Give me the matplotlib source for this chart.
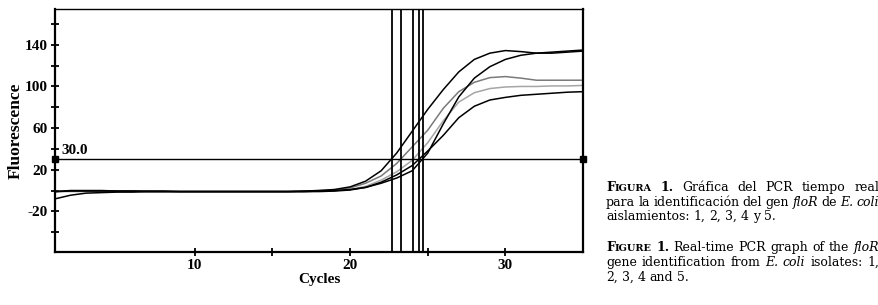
import matplotlib
matplotlib.use("Agg")
import matplotlib.pyplot as plt
from matplotlib.ticker import FixedLocator

# cycle numbers and fluorescence
cycles = list(range(1, 36))
curve_a = [-1, 0, 0, 0, -0.5, -0.5, -0.5, -0.5, -1, -1, -1, -1, -1, -1, -1, -1, -0.5, 0, 1,
           3.5, 9, 19, 36, 57, 78, 97, 114, 126, 132, 134.5, 133.5, 132, 132, 133, 134]
curve_b = [-1, -0.5, -0.5, -0.5, -0.5, -0.5, -1, -1, -1, -1, -1, -1, -1, -1, -1, -1, -1, -0.5, 0,
           1, 3, 7, 12, 19, 36, 64, 90, 108, 119, 126, 130, 132, 133, 134, 135]
curve_c = [-1, -0.5, -0.5, -1, -1, -1, -1, -1, -1, -1, -1, -1, -1, -1, -1, -1, -0.5, 0, 0.5,
           2.5, 7, 14, 26, 42, 58, 79, 95, 104, 108.5, 109.5, 108, 106, 106, 106, 106]
curve_d = [-1, -1, -1, -1, -1, -1, -1, -1, -1, -1, -1, -1, -1, -1, -1, -1, -1, -0.5, 0,
           1, 4, 10, 18, 29, 46, 67, 85, 94, 98, 99.5, 100, 100, 100.5, 100.5, 101]
curve_e = [-8, -4.5, -2.5, -2, -1.5, -1.5, -1, -1, -1, -1, -1, -1, -1, -1, -1, -1, -1, -1, -0.5,
           0.5, 3, 8, 15, 24, 38, 53, 70, 81, 87, 89.5, 91.5, 92.5, 93.5, 94.5, 95]
ct_values = [22.7, 23.25, 24.05, 24.45, 24.7]
threshold = 30.0

plt.rcParams['font.family'] = ['Liberation Serif', 'DejaVu Serif']
plt.rcParams['axes.unicode_minus'] = False

fig = plt.figure(figsize=(8.79, 3.05), dpi=100)
ax = fig.add_axes([0.0626, 0.174, 0.6007, 0.795])

ax.plot(cycles, curve_c, color='#7a7a7a', lw=1.1)
ax.plot(cycles, curve_d, color='#a5a5a5', lw=1.1)
ax.plot(cycles, curve_e, color='black', lw=1.1)
ax.plot(cycles, curve_b, color='black', lw=1.1)
ax.plot(cycles, curve_a, color='black', lw=1.1)

for ct in ct_values:
    ax.axvline(ct, color='black', lw=1.3)

ax.axhline(threshold, color='black', lw=1.0)
ax.plot([1, 35], [threshold, threshold], 's', color='black', ms=5, clip_on=False, zorder=5)
ax.text(1.4, threshold + 2.5, "30.0", fontsize=11, fontweight='bold', ha='left', va='bottom')

ax.set_xlim(1, 35)
ax.set_ylim(-59, 174)
ax.xaxis.set_major_locator(FixedLocator([10, 20, 30]))
ax.xaxis.set_minor_locator(FixedLocator([15, 25]))
ax.yaxis.set_major_locator(FixedLocator([-20, 20, 60, 100, 140]))
ax.yaxis.set_minor_locator(FixedLocator([-40, 0, 40, 80, 120, 160]))
ax.tick_params(which='both', direction='inout', length=6, width=1.3, labelsize=11, pad=2)
for lab in ax.get_xticklabels() + ax.get_yticklabels():
    lab.set_fontweight('bold')

for side in ['left', 'bottom', 'right']:
    ax.spines[side].set_linewidth(1.6)
ax.spines['top'].set_linewidth(1.0)

ax.set_xlabel("Cycles", fontsize=11, fontweight='bold', labelpad=1)
ax.set_ylabel("Fluorescence", fontsize=12.5, fontweight='bold', labelpad=1)

# caption, placed word by word so the lines can be justified
renderer = fig.canvas.get_renderer()
W, H = fig.get_size_inches() * fig.dpi
cap_size = 9.0
cap_font = 'DejaVu Serif'


def seg_width(txt, size, weight, style):
    t = fig.text(0, 0, txt, fontsize=size, fontweight=weight, fontstyle=style, family=cap_font)
    w = t.get_window_extent(renderer).width
    t.remove()
    return w


def caption_line(words, x0, x1, y, justify):
    # words: list of lists of (text, size, weight, style) pieces
    widths = [sum(seg_width(*p) for p in w) for w in words]
    space = seg_width("a a", cap_size, 'normal', 'normal') - seg_width("aa", cap_size, 'normal', 'normal')
    if justify and len(words) > 1:
        space = (x1 - x0 - sum(widths)) / (len(words) - 1)
    x = x0
    for w, wd in zip(words, widths):
        xx = x
        for p in w:
            fig.text(xx / W, 1 - y / H, p[0], fontsize=p[1], fontweight=p[2], fontstyle=p[3],
                     family=cap_font, ha='left', va='baseline')
            xx += seg_width(*p)
        x += wd + space


def n(t):
    return [(t, cap_size, 'normal', 'normal')]


def it(t):
    return [(t, cap_size, 'normal', 'italic')]


def sc(first, rest):
    return [(first, cap_size, 'bold', 'normal'), (rest, cap_size * 0.78, 'bold', 'normal')]


x0, x1 = 606, 879
caption_line([sc("F", "IGURA"), [("1.", cap_size, 'bold', 'normal')]] +
             [n(w) for w in "Gráfica del PCR tiempo real".split()], x0, x1, 191, True)
caption_line([n(w) for w in "para la identificación del gen".split()] + [it("floR"), n("de"), it("E."), it("coli")],
             x0, x1, 206, True)
caption_line([n(w) for w in "aislamientos: 1, 2, 3, 4 y 5.".split()], x0, x1, 220, False)
caption_line([sc("F", "IGURE"), [("1.", cap_size, 'bold', 'normal')]] +
             [n(w) for w in "Real-time PCR graph of the".split()] + [it("floR")], x0, x1, 251, True)
caption_line([n(w) for w in "gene identification from".split()] + [it("E."), it("coli")] +
             [n(w) for w in "isolates: 1,".split()], x0, x1, 266, True)
caption_line([n(w) for w in "2, 3, 4 and 5.".split()], x0, x1, 281, False)

fig.savefig("out.png", dpi=100)
